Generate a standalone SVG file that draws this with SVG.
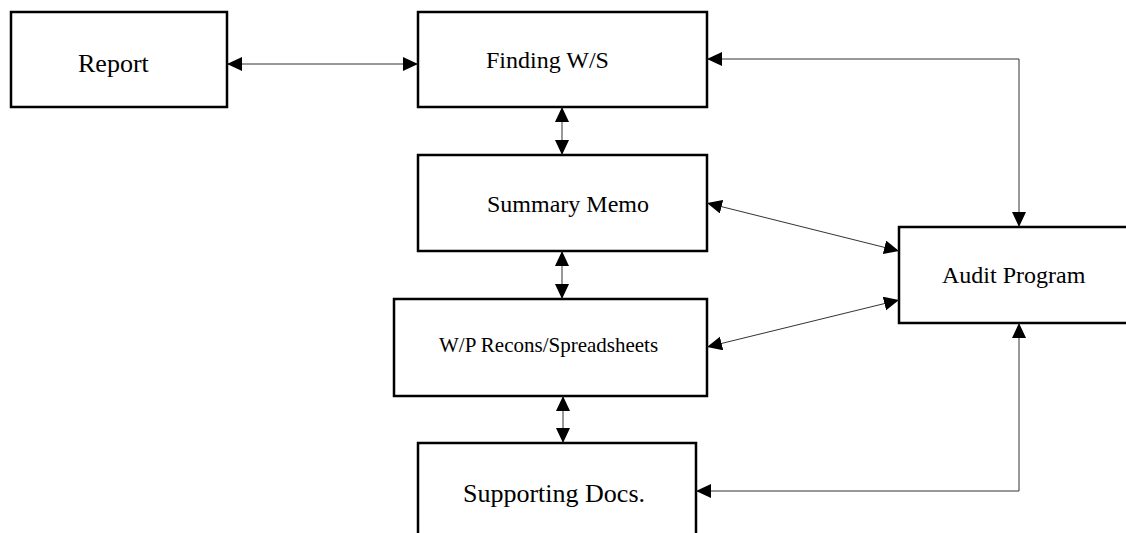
<svg xmlns="http://www.w3.org/2000/svg" width="1126" height="533" viewBox="0 0 1126 533">
<style>
.box{fill:#fff;stroke:#000;stroke-width:2.5}
.lbl{font-family:"Liberation Serif","Times New Roman",serif;fill:#000}
.con{fill:none;stroke:#333;stroke-width:1;marker-start:url(#ah);marker-end:url(#ah)}
</style>
<defs>
<marker id="ah" markerUnits="userSpaceOnUse" markerWidth="16" markerHeight="15" refX="15" refY="7" orient="auto-start-reverse">
<path d="M0,0 L15,7 L0,14 z" fill="#000"/>
</marker>
</defs>
<rect width="1126" height="533" fill="#fff"/>
<g id="report"><rect class="box" x="11" y="12" width="216" height="95"/><text class="lbl" x="78" y="72" font-size="26">Report</text></g>
<g id="finding"><rect class="box" x="418" y="12" width="289" height="95"/><text class="lbl" x="486" y="68" font-size="24">Finding W/S</text></g>
<g id="summary"><rect class="box" x="418" y="155" width="289" height="96"/><text class="lbl" x="487" y="212" font-size="24">Summary Memo</text></g>
<g id="wp"><rect class="box" x="394" y="299" width="313" height="97"/><text class="lbl" x="439" y="352" font-size="21">W/P Recons/Spreadsheets</text></g>
<g id="supporting"><rect class="box" x="418" y="443" width="278" height="110"/><text class="lbl" x="463" y="502" font-size="26">Supporting Docs.</text></g>
<g id="audit"><rect class="box" x="899" y="227" width="240" height="96"/><text class="lbl" x="942" y="283" font-size="24">Audit Program</text></g>
<g id="connectors">
<path class="con" d="M227,64 H418"/>
<path class="con" d="M562,107 V155"/>
<path class="con" d="M562,251 V299"/>
<path class="con" d="M563,396 V443"/>
<path class="con" d="M707,59 H1019 V227"/>
<path class="con" d="M707,203 L899,251"/>
<path class="con" d="M707,347 L899,300"/>
<path class="con" d="M696,491 H1019 V323"/>
</g>
</svg>
